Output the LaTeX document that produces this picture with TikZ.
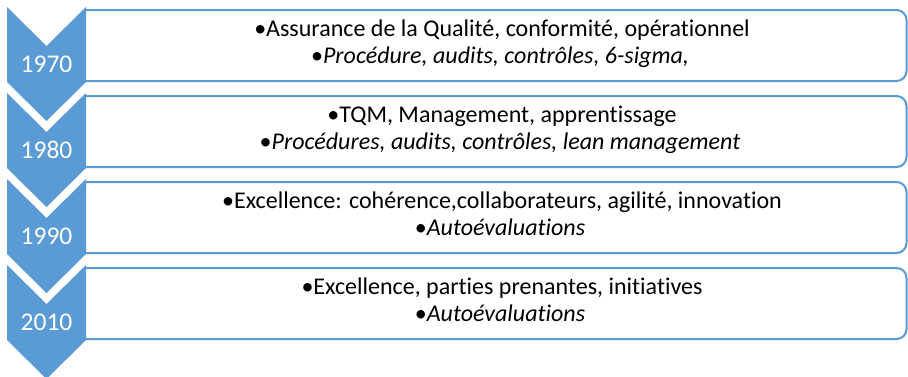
\documentclass[tikz,border=0pt]{standalone}
\usepackage{fontspec}
\setmainfont{Carlito}[Ligatures=NoCommon]
\definecolor{office}{HTML}{5B9BD5}
\tikzset{
  chev/.style={fill=office, draw=none},
  panel/.style={draw=office, line width=2pt, fill=white, rounded corners=10pt},
  yearlabel/.style={text=white, font=\fontsize{25.5}{30}\selectfont, inner sep=0pt, anchor=center},
  itemtxt/.style={text=black, font=\fontsize{24}{28}\selectfont, inner sep=0pt, anchor=base}
}
\begin{document}
\begin{tikzpicture}[x=1pt,y=-1pt]
\useasboundingbox (0,0) rectangle (908,376);
\clip (0,0) rectangle (908,376);
\fill[white] (0,0) rectangle (908,376);
\foreach \k/\yr/\la/\lb in {0/1970/{•Assurance de la Qualité, conformité, opérationnel}/{•\textit{Procédure, audits, contrôles, 6-sigma,}},
                            1/1980/{•TQM, Management, apprentissage}/{•\textit{Procédures, audits, contrôles, lean management}},
                            2/1990/{•Excellence: cohérence,collaborateurs, agilité, innovation}/{•\textit{Autoévaluations}},
                            3/2010/{•Excellence, parties prenantes, initiatives}/{•\textit{Autoévaluations}}}{
  \pgfmathsetmacro{\T}{7+86*\k}
  \pgfmathsetmacro{\B}{10+86*\k}
  \draw[panel] (85,\B) -- (906.5,\B) -- (906.5,\B+71) -- (85,\B+71);
  \fill[chev] (7,\T) -- (46.5,\T+39) -- (86,\T) -- (86,\T+75) -- (46.5,\T+114) -- (7,\T+75) -- cycle;
  \node[yearlabel] (y\k) at (46.5,\T+57) {\yr};
  \node[itemtxt] (a\k) at (502,\B+26.5) {\la};
  \node[itemtxt] (b\k) at (500,\B+53.5) {\lb};
}
\end{tikzpicture}
\end{document}
